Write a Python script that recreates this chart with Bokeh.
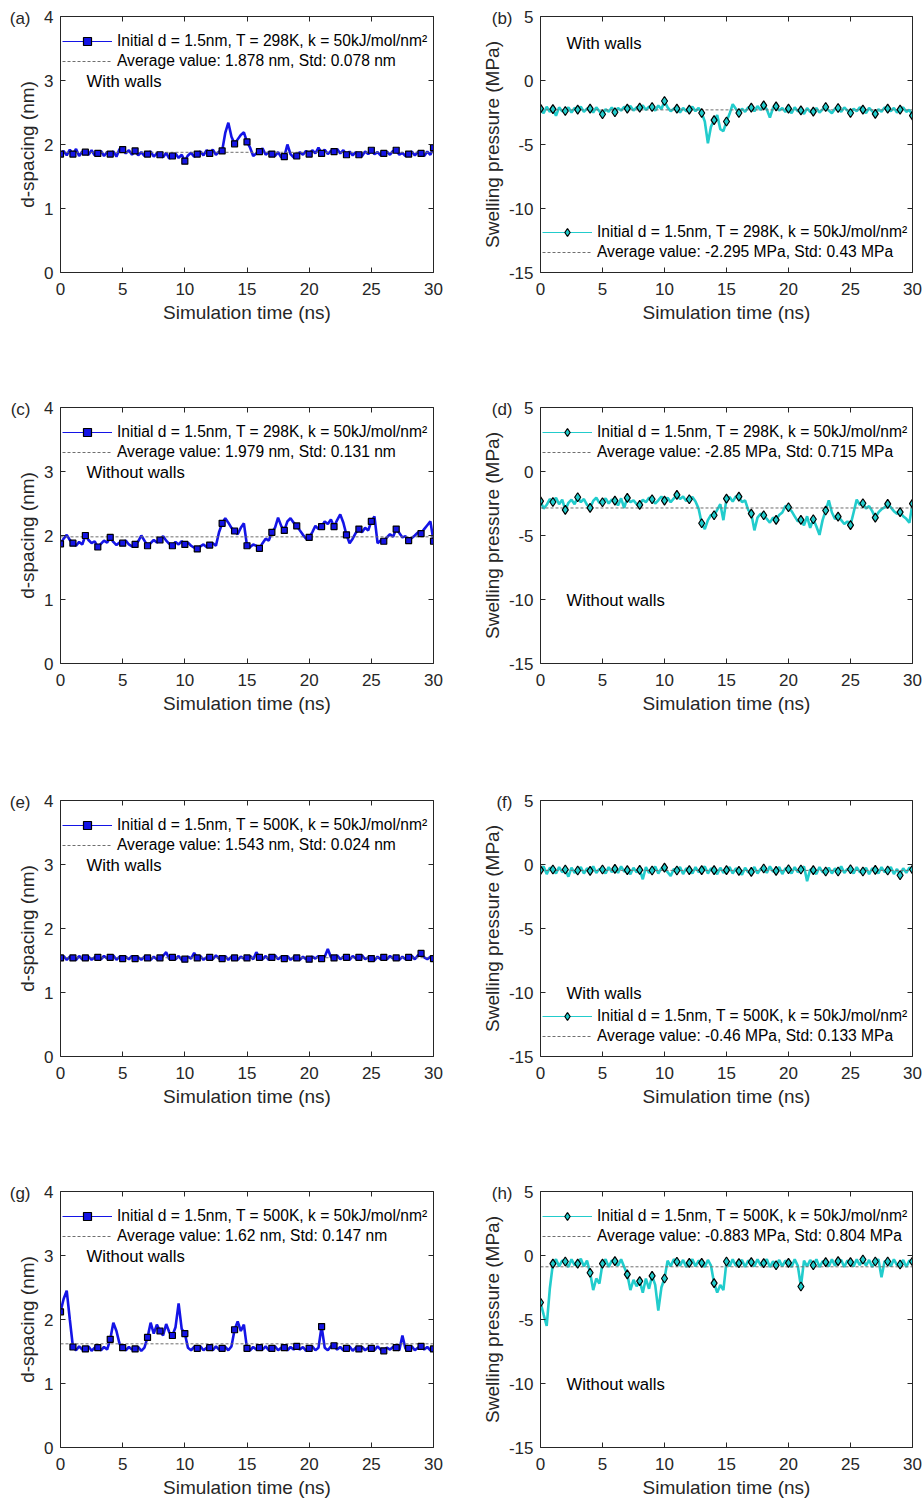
import numpy as np
from bokeh.plotting import figure
from bokeh.layouts import gridplot
from bokeh.models import Range1d, LinearAxis, FixedTicker, Legend, LegendItem, Label
from bokeh.embed import file_html
from bokeh.resources import INLINE

# Sampling grid of the trajectories (ns); markers are drawn once per ns
time_ns = np.round(np.arange(0, 30.001, 0.25), 2)
MARK_STEP = 4

# (a) d-spacing, T = 298 K, with walls (nm)
d_298_walls = [
    1.85, 1.90, 1.83, 1.92, 1.85, 1.93, 1.82, 1.89,
    1.88, 1.84, 1.91, 1.83, 1.86, 1.90, 1.82, 1.88,
    1.85, 1.89, 1.81, 1.93, 1.92, 1.86, 1.91, 1.84,
    1.90, 1.83, 1.88, 1.82, 1.85, 1.89, 1.81, 1.86,
    1.84, 1.80, 1.87, 1.78, 1.82, 1.86, 1.79, 1.84,
    1.74, 1.83, 1.87, 1.81, 1.85, 1.89, 1.83, 1.91,
    1.86, 1.92, 1.84, 1.89, 1.90, 2.18, 2.34, 2.12,
    2.01, 2.08, 2.15, 2.19, 2.04, 1.95, 1.82, 1.86,
    1.89, 1.94, 1.84, 1.88, 1.85, 1.82, 1.88, 1.80,
    1.81, 2.00, 1.85, 1.80, 1.82, 1.88, 1.84, 1.90,
    1.85, 1.91, 1.86, 1.95, 1.86, 1.92, 1.85, 1.90,
    1.89, 1.93, 1.86, 1.91, 1.84, 1.89, 1.83, 1.88,
    1.84, 1.82, 1.89, 1.85, 1.91, 1.85, 1.88, 1.83,
    1.86, 1.89, 1.84, 1.90, 1.91, 1.84, 1.87, 1.82,
    1.85, 1.89, 1.83, 1.88, 1.86, 1.82, 1.89, 1.84,
    1.95,
]

# (b) swelling pressure, T = 298 K, with walls (MPa)
p_298_walls = [
    -2.20, -2.55, -2.05, -2.45, -2.23, -2.75, -2.10, -2.40,
    -2.38, -2.10, -2.50, -2.15, -2.28, -2.05, -2.45, -2.20,
    -2.20, -2.50, -2.10, -2.40, -2.64, -2.25, -2.45, -2.10,
    -2.48, -2.15, -2.35, -2.05, -2.20, -2.00, -2.35, -2.10,
    -2.12, -1.95, -2.30, -2.05, -2.07, -2.35, -1.95, -2.25,
    -1.60, -2.10, -2.40, -2.20, -2.20, -2.50, -2.15, -2.40,
    -2.28, -2.05, -2.40, -2.15, -2.54, -3.20, -4.90, -3.60,
    -3.10, -2.70, -3.80, -3.95, -3.20, -2.60, -1.85, -2.20,
    -2.54, -2.20, -2.45, -2.10, -2.12, -2.40, -2.00, -2.30,
    -1.94, -2.25, -2.90, -2.15, -2.02, -2.35, -2.15, -2.45,
    -2.20, -2.55, -2.10, -2.40, -2.33, -2.60, -2.15, -2.45,
    -2.43, -2.15, -2.50, -2.25, -2.07, -2.35, -2.55, -2.20,
    -2.15, -2.45, -2.10, -2.35, -2.54, -2.20, -2.40, -2.10,
    -2.28, -2.55, -2.15, -2.40, -2.61, -2.25, -2.45, -2.10,
    -2.20, -2.40, -2.15, -2.50, -2.28, -2.10, -2.45, -2.30,
    -2.74,
]

# (c) d-spacing, T = 298 K, without walls (nm)
d_298_nowalls = [
    1.87, 1.95, 2.01, 1.93, 1.88, 1.84, 1.90, 1.86,
    2.00, 1.93, 1.88, 1.91, 1.82, 1.87, 1.92, 1.89,
    1.97, 1.90, 1.85, 1.89, 1.88, 1.92, 1.86, 1.83,
    1.86, 1.91, 2.00, 1.92, 1.84, 1.88, 1.93, 1.89,
    1.93, 1.99, 1.92, 1.87, 1.84, 1.90, 1.86, 1.91,
    1.86, 1.89, 1.84, 1.81, 1.79, 1.83, 1.86, 1.82,
    1.85, 1.88, 1.84, 2.05, 2.19, 2.27, 2.20, 2.12,
    2.07, 2.02, 2.12, 2.19, 1.84, 1.82, 1.86, 1.84,
    1.80, 1.88, 1.95, 1.92, 2.05, 2.12, 2.28, 2.15,
    2.08, 2.22, 2.27, 2.20, 2.15, 2.08, 2.01, 1.95,
    1.97, 2.05, 2.15, 2.10, 2.14, 2.22, 2.18, 2.25,
    2.14, 2.24, 2.33, 2.20, 2.01, 1.88, 1.95, 2.04,
    2.10, 2.05, 2.12, 2.08, 2.22, 2.30, 1.88, 1.92,
    1.91, 1.97, 2.02, 1.98, 2.10, 2.04, 1.97, 1.99,
    1.92, 1.96, 2.00, 2.05, 2.03, 2.10, 2.16, 2.22,
    1.91,
]

# (d) swelling pressure, T = 298 K, without walls (MPa)
p_298_nowalls = [
    -2.32, -2.90, -2.60, -2.15, -2.38, -2.05, -2.55, -2.20,
    -3.00, -2.45, -2.20, -2.55, -2.01, -2.40, -2.15, -2.60,
    -2.84, -2.30, -2.05, -2.45, -2.40, -2.10, -2.50, -2.20,
    -2.27, -2.65, -2.10, -2.85, -2.06, -2.40, -2.25, -2.55,
    -2.61, -2.20, -2.40, -2.05, -2.17, -2.50, -2.25, -1.95,
    -2.27, -2.05, -2.40, -2.10, -1.83, -2.15, -1.95, -2.30,
    -2.17, -2.00, -2.35, -2.90, -4.04, -4.50, -3.80, -3.40,
    -3.42, -3.00, -2.55, -3.80, -2.12, -2.00, -2.35, -1.95,
    -1.96, -2.40, -2.25, -3.00, -3.29, -4.60, -3.60, -3.30,
    -3.42, -3.70, -4.00, -3.60, -3.78, -3.40, -3.20, -2.70,
    -2.79, -3.10, -3.50, -3.90, -3.78, -4.20, -3.50, -4.40,
    -3.73, -4.30, -4.95, -3.80, -3.05, -2.25, -3.20, -3.70,
    -3.52, -3.80, -4.10, -3.90, -4.19, -3.20, -2.20, -2.60,
    -2.48, -2.90, -2.70, -3.10, -3.60, -3.20, -2.95, -2.80,
    -2.53, -2.80, -3.10, -3.30, -3.18, -3.50, -3.70, -4.00,
    -2.51,
]

# (e) d-spacing, T = 500 K, with walls (nm)
d_500_walls = [
    1.54, 1.57, 1.51, 1.56, 1.54, 1.51, 1.57, 1.52,
    1.54, 1.56, 1.51, 1.55, 1.55, 1.52, 1.57, 1.53,
    1.55, 1.58, 1.51, 1.56, 1.53, 1.56, 1.52, 1.57,
    1.53, 1.55, 1.51, 1.56, 1.54, 1.51, 1.56, 1.52,
    1.54, 1.57, 1.63, 1.52, 1.55, 1.52, 1.57, 1.51,
    1.52, 1.56, 1.53, 1.62, 1.54, 1.57, 1.51, 1.55,
    1.55, 1.52, 1.58, 1.53, 1.53, 1.57, 1.51, 1.56,
    1.54, 1.51, 1.56, 1.53, 1.54, 1.57, 1.52, 1.63,
    1.55, 1.52, 1.57, 1.51, 1.55, 1.58, 1.52, 1.56,
    1.53, 1.57, 1.51, 1.55, 1.54, 1.51, 1.56, 1.52,
    1.52, 1.56, 1.53, 1.57, 1.53, 1.56, 1.68, 1.55,
    1.54, 1.58, 1.52, 1.56, 1.55, 1.51, 1.57, 1.53,
    1.55, 1.58, 1.52, 1.55, 1.53, 1.50, 1.56, 1.52,
    1.55, 1.52, 1.57, 1.53, 1.54, 1.51, 1.56, 1.52,
    1.55, 1.57, 1.52, 1.58, 1.61, 1.55, 1.52, 1.56,
    1.53,
]

# (f) swelling pressure, T = 500 K, with walls (MPa)
p_500_walls = [
    -0.44, -0.15, -0.75, -0.25, -0.39, -0.70, -0.20, -0.60,
    -0.39, -0.95, -0.25, -0.65, -0.47, -0.20, -0.70, -0.30,
    -0.50, -0.15, -0.65, -0.35, -0.39, -0.70, -0.20, -0.60,
    -0.34, -0.65, -0.15, -0.55, -0.44, -0.75, -0.25, -0.60,
    -0.42, -1.15, -0.20, -0.65, -0.47, -0.15, -0.70, -0.30,
    -0.24, -0.60, -0.90, -0.35, -0.47, -0.20, -0.75, -0.30,
    -0.44, -0.70, -0.20, -0.60, -0.44, -0.15, -0.70, -0.30,
    -0.44, -0.75, -0.25, -0.65, -0.44, -0.20, -0.70, -0.30,
    -0.50, -0.80, -0.25, -0.60, -0.58, -0.20, -0.70, -0.35,
    -0.31, -0.65, -0.15, -0.55, -0.50, -0.20, -0.75, -0.30,
    -0.37, -0.70, -0.20, -0.60, -0.39, -0.15, -1.30, -0.40,
    -0.44, -0.75, -0.20, -0.60, -0.55, -0.25, -0.70, -0.30,
    -0.55, -0.15, -0.65, -0.35, -0.37, -0.70, -0.20, -0.60,
    -0.55, -0.25, -0.75, -0.30, -0.42, -0.70, -0.20, -0.60,
    -0.47, -0.20, -0.75, -0.35, -0.84, -0.30, -0.65, -0.25,
    -0.39,
]

# (g) d-spacing, T = 500 K, without walls (nm)
d_500_nowalls = [
    2.12, 2.32, 2.45, 2.00, 1.57, 1.52, 1.58, 1.53,
    1.54, 1.58, 1.51, 1.56, 1.56, 1.52, 1.57, 1.53,
    1.69, 1.95, 1.82, 1.62, 1.56, 1.52, 1.57, 1.53,
    1.54, 1.57, 1.51, 1.56, 1.72, 1.95, 1.78, 1.92,
    1.82, 1.75, 1.93, 1.80, 1.75, 1.88, 2.25, 1.85,
    1.78, 1.56, 1.52, 1.57, 1.55, 1.58, 1.52, 1.56,
    1.56, 1.52, 1.58, 1.53, 1.55, 1.57, 1.52, 1.58,
    1.84, 1.97, 1.82, 1.92, 1.55, 1.52, 1.57, 1.53,
    1.56, 1.53, 1.58, 1.52, 1.55, 1.58, 1.52, 1.56,
    1.56, 1.52, 1.57, 1.53, 1.58, 1.53, 1.57, 1.51,
    1.55, 1.58, 1.52, 1.56, 1.89, 1.56, 1.52, 1.58,
    1.59, 1.53, 1.57, 1.52, 1.55, 1.58, 1.51, 1.56,
    1.54, 1.57, 1.52, 1.56, 1.55, 1.52, 1.58, 1.53,
    1.51, 1.56, 1.53, 1.57, 1.56, 1.52, 1.75, 1.54,
    1.55, 1.58, 1.52, 1.56, 1.58, 1.53, 1.57, 1.52,
    1.54,
]

# (h) swelling pressure, T = 500 K, without walls (MPa)
p_500_nowalls = [
    -3.67, -4.60, -5.50, -2.60, -0.63, -0.30, -0.85, -0.40,
    -0.47, -0.90, -0.30, -0.75, -0.63, -0.25, -0.85, -0.40,
    -1.35, -2.70, -1.80, -2.20, -0.63, -0.30, -0.90, -0.40,
    -0.44, -0.80, -0.30, -0.90, -1.48, -2.70, -1.90, -2.40,
    -2.00, -2.90, -1.80, -2.60, -1.59, -2.30, -4.30, -2.50,
    -1.80, -0.40, -0.85, -0.30, -0.49, -0.80, -0.35, -0.90,
    -0.57, -0.30, -0.85, -0.40, -0.57, -0.90, -0.35, -0.80,
    -2.16, -2.90, -2.30, -2.70, -0.47, -0.85, -0.30, -0.80,
    -0.60, -0.35, -0.90, -0.40, -0.52, -0.85, -0.30, -0.75,
    -0.60, -0.30, -0.90, -0.45, -0.76, -0.35, -0.85, -0.40,
    -0.57, -0.90, -0.30, -0.80, -2.42, -0.40, -0.85, -0.35,
    -0.76, -0.30, -0.90, -0.45, -0.52, -0.85, -0.30, -0.80,
    -0.44, -0.35, -0.90, -0.40, -0.52, -0.85, -0.30, -0.75,
    -0.31, -0.80, -0.35, -0.90, -0.47, -0.30, -1.70, -0.45,
    -0.47, -0.85, -0.30, -0.75, -0.70, -0.35, -0.90, -0.40,
    -0.47,
]

panel_tags = ["(a)", "(b)", "(c)", "(d)", "(e)", "(f)", "(g)", "(h)"]
panel_series = [d_298_walls, p_298_walls, d_298_nowalls, p_298_nowalls,
                d_500_walls, p_500_walls, d_500_nowalls, p_500_nowalls]
temperatures = [298, 298, 298, 298, 500, 500, 500, 500]
conditions = ["With walls", "With walls", "Without walls", "Without walls",
              "With walls", "With walls", "Without walls", "Without walls"]
averages = [1.878, -2.295, 1.979, -2.85, 1.543, -0.46, 1.62, -0.883]
std_devs = [0.078, 0.43, 0.131, 0.715, 0.024, 0.133, 0.147, 0.804]

x_ticks = [0, 5, 10, 15, 20, 25, 30]
d_ticks = [0, 1, 2, 3, 4]
p_ticks = [-15, -10, -5, 0, 5]

FONT = "Liberation Sans"
INK = "#262626"
BLUE = "#1414e6"
CYAN = "#22cccc"
AVG_GRAY = "#6e6e6e"

FRAME_H = 256
ROW_TOP = [16, 16, 18, 18]
ROW_BOTTOM = [119, 119, 117, 51]


def style_axis(ax, ticks, show_labels, dim):
    ax.ticker = FixedTicker(ticks=ticks)
    ax.axis_line_color = INK
    ax.axis_line_width = 1
    ax.major_tick_line_color = INK
    ax.major_tick_in = 5
    ax.major_tick_out = 0
    ax.minor_tick_line_color = None
    ax.major_label_text_font = FONT
    ax.axis_label_text_font = FONT
    ax.axis_label_text_font_style = "normal"
    ax.axis_label_text_color = INK
    ax.axis_label_text_font_size = "19px"
    # plain hyphen for negative tick values
    ax.major_label_overrides = {t: f"{t}" for t in ticks if t < 0}
    if show_labels:
        ax.major_label_text_color = INK
        ax.major_label_text_font_size = "17px"
        ax.major_label_standoff = 10 if dim == "x" else 7
        ax.axis_label_standoff = 4 if dim == "x" else 3
    else:
        # tick marks only (box frame of the panel)
        ax.major_label_text_color = None
        ax.major_label_text_font_size = "1px"
        ax.major_label_standoff = 0


def add_panel_tag(p, tag, left):
    """Panel letter at the top-left corner, set as the sole label of an
    outer left axis whose range is measured in frame pixels."""
    p.extra_y_ranges = {"frame_px": Range1d(0, FRAME_H)}
    tag_y = FRAME_H - 2
    ax = LinearAxis(y_range_name="frame_px", ticker=FixedTicker(ticks=[tag_y]),
                    major_label_overrides={tag_y: tag})
    ax.axis_line_color = None
    ax.major_tick_line_color = None
    ax.minor_tick_line_color = None
    ax.major_tick_in = 0
    ax.major_tick_out = 0
    ax.major_label_text_font = FONT
    ax.major_label_text_font_size = "17px"
    ax.major_label_text_color = INK
    ax.major_label_standoff = -16 if left else -34
    p.add_layout(ax, "left")


def make_panel(i):
    left = i % 2 == 0
    row = i // 2
    pressure = not left
    values = panel_series[i]
    y_ticks = p_ticks if pressure else d_ticks
    unit = "MPa" if pressure else "nm"

    p = figure(
        frame_width=373 if left else 372, frame_height=FRAME_H,
        min_border_left=60 if left else 80, min_border_right=27 if left else 12,
        min_border_top=ROW_TOP[row], min_border_bottom=ROW_BOTTOM[row],
        x_range=Range1d(x_ticks[0], x_ticks[-1]),
        y_range=Range1d(y_ticks[0], y_ticks[-1]),
        x_axis_label="Simulation time (ns)",
        y_axis_label="Swelling pressure (MPa)" if pressure else "d-spacing (nm)",
        output_backend="svg", toolbar_location=None,
        background_fill_color="white", border_fill_color="white",
    )
    p.outline_line_color = None
    p.xgrid.grid_line_color = None
    p.ygrid.grid_line_color = None
    style_axis(p.xaxis[0], x_ticks, True, "x")
    style_axis(p.yaxis[0], y_ticks, True, "y")
    top_ax = LinearAxis()
    style_axis(top_ax, x_ticks, False, "x")
    p.add_layout(top_ax, "above")
    right_ax = LinearAxis()
    style_axis(right_ax, y_ticks, False, "y")
    p.add_layout(right_ax, "right")
    add_panel_tag(p, panel_tags[i], left)

    color = CYAN if pressure else BLUE
    marker = "diamond" if pressure else "square"
    p.line(time_ns, values, line_color=color, line_width=2.6)
    avg_line = p.line([time_ns[0], time_ns[-1]], [averages[i], averages[i]],
                      line_color=AVG_GRAY, line_width=1, line_dash="3 2")
    p.scatter(time_ns[::MARK_STEP], values[::MARK_STEP], marker=marker,
              size=9 if pressure else 6,
              fill_color=color, line_color="black", line_width=1.2)

    # thin legend samples; their single NaN point draws nothing in the frame
    key_line = p.line([np.nan], [np.nan], line_color=color, line_width=1)
    key_mark = p.scatter([np.nan], [np.nan], marker=marker, fill_color=color,
                         line_color="black", line_width=1.2)

    series_label = (f"Initial d = 1.5nm, T = {temperatures[i]}K, "
                    f"k = 50kJ/mol/nm\u00b2")
    avg_label = f"Average value: {averages[i]:g} {unit}, Std: {std_devs[i]:g} {unit}"
    legend_at_bottom = i in (1, 5)
    legend = Legend(
        items=[LegendItem(label=series_label, renderers=[key_line, key_mark]),
               LegendItem(label=avg_label, renderers=[avg_line])],
        location=(2, 10 if legend_at_bottom else 201.5),
        border_line_color=None, background_fill_alpha=0,
        padding=0, margin=0, spacing=0,
        glyph_width=50, glyph_height=20, label_height=20, label_standoff=5,
        label_text_font=FONT, label_text_font_size="15.6px",
        label_text_color="black",
    )
    p.add_layout(legend)

    # position of the condition note inside the frame (px from frame bottom)
    if i == 1:
        note_y = FRAME_H - 27
    elif pressure:
        note_y = FRAME_H - 193
    else:
        note_y = FRAME_H - 65
    p.add_layout(Label(x=26, y=note_y, x_units="screen", y_units="screen",
                       text=conditions[i], text_font=FONT, text_font_size="16.7px",
                       text_color="black", text_baseline="middle"))
    return p


panels = [make_panel(i) for i in range(8)]
grid = gridplot([panels[0:2], panels[2:4], panels[4:6], panels[6:8]],
                toolbar_location=None)

open("out.html", "w").write(file_html(grid, INLINE))
